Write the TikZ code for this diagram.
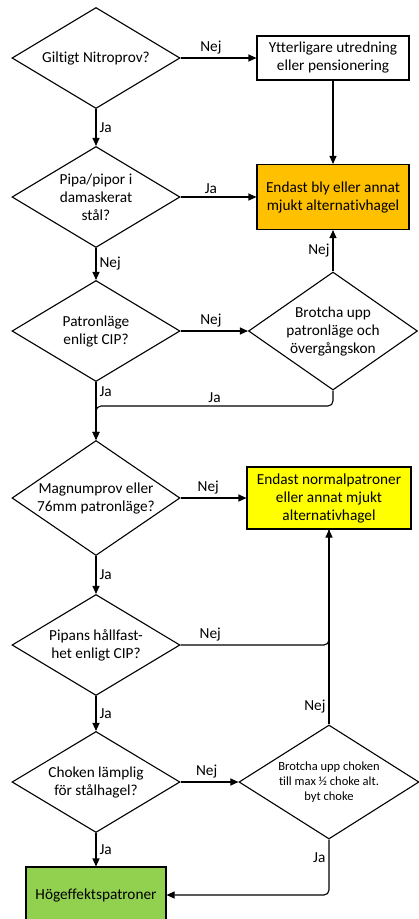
\documentclass[tikz,border=0pt]{standalone}
\usepackage{fontspec}
\setmainfont{Carlito}[Ligatures=NoCommon]
\usepackage{xcolor}
\usetikzlibrary{shapes.geometric,arrows.meta}

\definecolor{blyorange}{HTML}{FFC000}
\definecolor{normgul}{HTML}{FFFF00}
\definecolor{hoggron}{HTML}{92D050}

\begin{document}
\begin{tikzpicture}[x=1pt,y=-1pt,line width=1.1pt,
	>={Triangle[length=8pt,width=7pt]},
	dia/.style={draw,diamond,inner sep=0pt,minimum width=168pt,minimum height=101pt},
	box/.style={draw,rectangle,inner sep=0pt,align=center,font=\fontsize{15.3}{18}\selectfont},
	txt/.style={align=center,font=\fontsize{15.3}{18}\selectfont},
	lbl/.style={font=\fontsize{15.3}{18}\selectfont,inner sep=3pt}]
	\useasboundingbox (0,0) rectangle (419,919);
	
	% vänster kolumn: frågorna
	\node[dia,label={[txt]center:Giltigt Nitroprov?}] (nitro) at (96,58) {};
	\node[dia,label={[txt]center:{Pipa/pipor i\\damaskerat\\stål?}}] (damask) at (96,197) {};
	\node[dia,label={[txt]center:{Patronläge\\enligt CIP?}}] (patron) at (96,331) {};
	\node[dia,minimum height=115pt,label={[txt]center:{Magnumprov eller\\76mm patronläge?}}] (magnum) at (96,498) {};
	\node[dia,label={[txt]center:{Pipans hållfast-\\het enligt CIP?}}] (hallfast) at (96,645) {};
	\node[dia,label={[txt]center:{Choken lämplig\\för stålhagel?}}] (choke) at (96,782) {};
	
	% höger kolumn
	\node[box,minimum width=152pt,minimum height=44pt] (utred) at (333,58) {Ytterligare utredning\\eller pensionering};
	\node[box,fill=blyorange,minimum width=152pt,minimum height=65pt] (bly) at (333,197) {Endast bly eller annat\\mjukt alternativhagel};
	\node[dia,minimum width=169pt,minimum height=118pt,label={[txt]center:{Brotcha upp\\patronläge och\\övergångskon}}] (brotcha) at (333,331) {};
	\node[box,fill=normgul,minimum width=164pt,minimum height=62pt] (normal) at (329,498) {Endast normalpatroner\\eller annat mjukt\\alternativhagel};
	\node[dia,minimum width=180pt,minimum height=114pt,label={[txt,font=\fontsize{12.5}{15}\selectfont]center:{Brotcha upp choken\\till max ½ choke alt.\\byt choke}}] (brotchoke) at (329,782) {};
	\node[box,fill=hoggron,minimum width=140pt,minimum height=56pt] (hog) at (96,895) {Högeffektspatroner};
	
	\draw[->] (nitro) -- node[lbl,above,pos=0.4] {Nej} (utred);
	\draw[->] (utred) -- (bly);
	\draw[->] (nitro) -- node[lbl,right] {Ja} (damask);
	\draw[->] (damask) -- node[lbl,above,pos=0.4] {Ja} (bly);
	\draw[->] (damask) -- node[lbl,right] {Nej} (patron);
	\draw[->] (patron) -- node[lbl,above,pos=0.45] {Nej} (brotcha);
	\draw[->] (brotcha) -- node[lbl,left] {Nej} (bly);
	\draw[->] (patron) -- node[lbl,right,pos=0.17] {Ja} (magnum);
	\coordinate (jaknut) at (96,406);
	\draw[->,rounded corners=5pt] (brotcha.south) |- node[lbl,above,pos=0.75] {Ja} (jaknut) -- (magnum.north);
	
	\draw[->] (magnum) -- node[lbl,above,pos=0.42] {Nej} (normal);
	\draw[->] (magnum) -- node[lbl,right] {Ja} (hallfast);
	\draw[rounded corners=5pt] (hallfast.east) -| node[lbl,above,pos=0.1] {Nej} (normal.south);
	\draw[->] (brotchoke) -- node[lbl,left,pos=0.09] {Nej} (normal);
	\draw[->] (hallfast) -- node[lbl,right] {Ja} (choke);
	\draw[->] (choke) -- node[lbl,above,pos=0.45] {Nej} (brotchoke);
	\draw[->] (choke) -- node[lbl,right] {Ja} (hog);
	\draw[->,rounded corners=5pt] (brotchoke.south) |- node[lbl,left,pos=0.16] {Ja} (hog.east);
\end{tikzpicture}
\end{document}
